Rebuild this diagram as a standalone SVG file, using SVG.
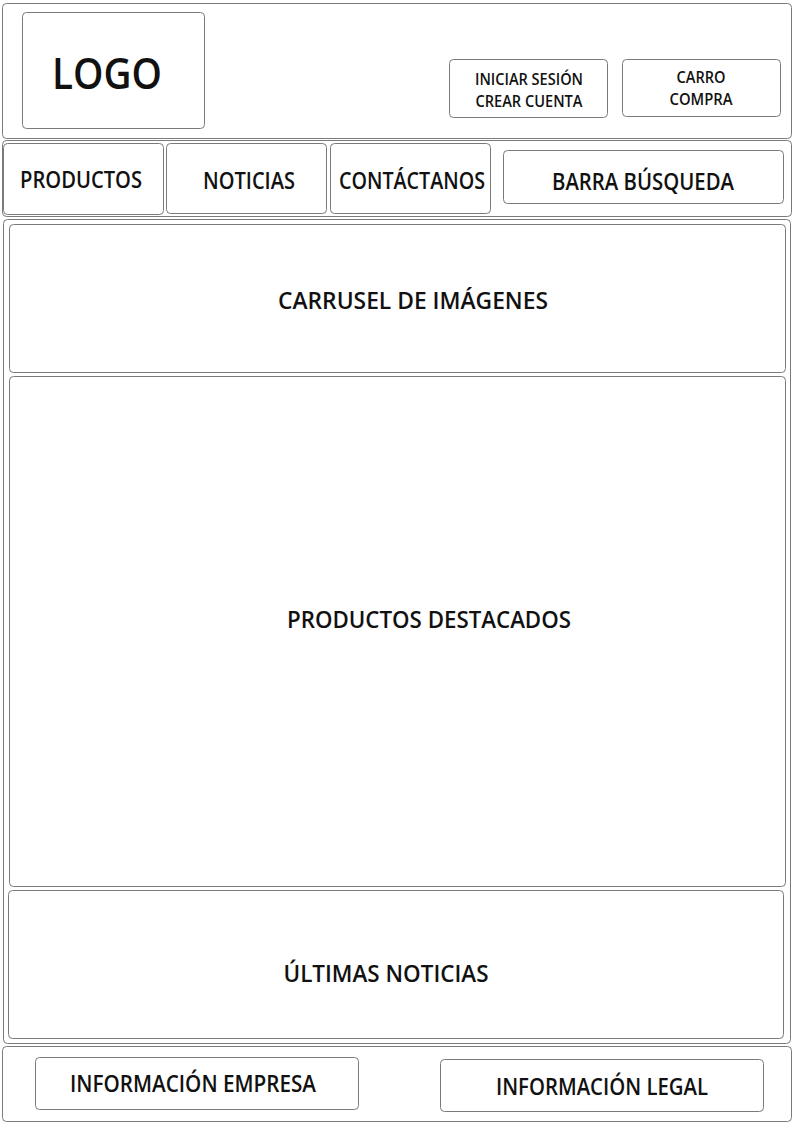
<svg xmlns="http://www.w3.org/2000/svg" width="794" height="1123" viewBox="0 0 794 1123">
<style>
.box{fill:#fff;stroke:#7a7a7a;stroke-width:1}
.t{font-family:"Open Sans","Liberation Sans",sans-serif;font-weight:600;fill:#111;text-anchor:middle}
.l{font-size:24px}
.s{font-size:15.5px}
</style>
<rect width="794" height="1123" fill="#fff"/>
<g id="header">
<rect class="box" x="2.5" y="3.5" width="789" height="135" rx="4"/>
</g>
<g id="logo">
<rect class="box" x="22.5" y="12.5" width="182" height="116" rx="4"/>
<text class="t" x="107" y="89" font-size="44" textLength="110" lengthAdjust="spacingAndGlyphs">LOGO</text>
</g>
<g id="login">
<rect class="box" x="449.5" y="59.5" width="158" height="58" rx="4"/>
<text class="t s" x="529" y="85" textLength="108" lengthAdjust="spacingAndGlyphs">INICIAR SESIÓN</text>
<text class="t s" x="529" y="107" textLength="107" lengthAdjust="spacingAndGlyphs">CREAR CUENTA</text>
</g>
<g id="cart">
<rect class="box" x="622.5" y="59.5" width="158" height="57" rx="4"/>
<text class="t s" x="701" y="83" textLength="49" lengthAdjust="spacingAndGlyphs">CARRO</text>
<text class="t s" x="701" y="105" textLength="63" lengthAdjust="spacingAndGlyphs">COMPRA</text>
</g>
<g id="nav">
<rect class="box" x="2.5" y="140.5" width="789" height="76" rx="4"/>
</g>
<g id="productos">
<rect class="box" x="3.5" y="143.5" width="160" height="71" rx="4"/>
<text class="t l" x="81" y="188" textLength="122" lengthAdjust="spacingAndGlyphs">PRODUCTOS</text>
</g>
<g id="noticias">
<rect class="box" x="166.5" y="143.5" width="160" height="70" rx="4"/>
<text class="t l" x="249" y="189" textLength="92" lengthAdjust="spacingAndGlyphs">NOTICIAS</text>
</g>
<g id="contactanos">
<rect class="box" x="330.5" y="143.5" width="160" height="70" rx="4"/>
<text class="t l" x="412" y="189" textLength="146" lengthAdjust="spacingAndGlyphs">CONTÁCTANOS</text>
</g>
<g id="busqueda">
<rect class="box" x="503.5" y="150.5" width="280" height="53" rx="4"/>
<text class="t l" x="643" y="190" textLength="182" lengthAdjust="spacingAndGlyphs">BARRA BÚSQUEDA</text>
</g>
<g id="main">
<rect class="box" x="3.5" y="219.5" width="787" height="824" rx="4"/>
</g>
<g id="carrusel">
<rect class="box" x="9.5" y="224.5" width="776" height="148" rx="4"/>
<text class="t l" x="413" y="309" textLength="270" lengthAdjust="spacingAndGlyphs">CARRUSEL DE IMÁGENES</text>
</g>
<g id="destacados">
<rect class="box" x="9.5" y="376.5" width="776" height="510" rx="4"/>
<text class="t l" x="429" y="628" textLength="284" lengthAdjust="spacingAndGlyphs">PRODUCTOS DESTACADOS</text>
</g>
<g id="ultimas">
<rect class="box" x="8.5" y="890.5" width="775" height="148" rx="4"/>
<text class="t l" x="386" y="982" textLength="205" lengthAdjust="spacingAndGlyphs">ÚLTIMAS NOTICIAS</text>
</g>
<g id="footer">
<rect class="box" x="2.5" y="1046.5" width="789" height="75" rx="4"/>
</g>
<g id="empresa">
<rect class="box" x="35.5" y="1057.5" width="323" height="52" rx="4"/>
<text class="t l" x="193" y="1092" textLength="246" lengthAdjust="spacingAndGlyphs">INFORMACIÓN EMPRESA</text>
</g>
<g id="legal">
<rect class="box" x="440.5" y="1059.5" width="323" height="52" rx="4"/>
<text class="t l" x="602" y="1095" textLength="212" lengthAdjust="spacingAndGlyphs">INFORMACIÓN LEGAL</text>
</g>
<g id="connectors"></g>
</svg>
